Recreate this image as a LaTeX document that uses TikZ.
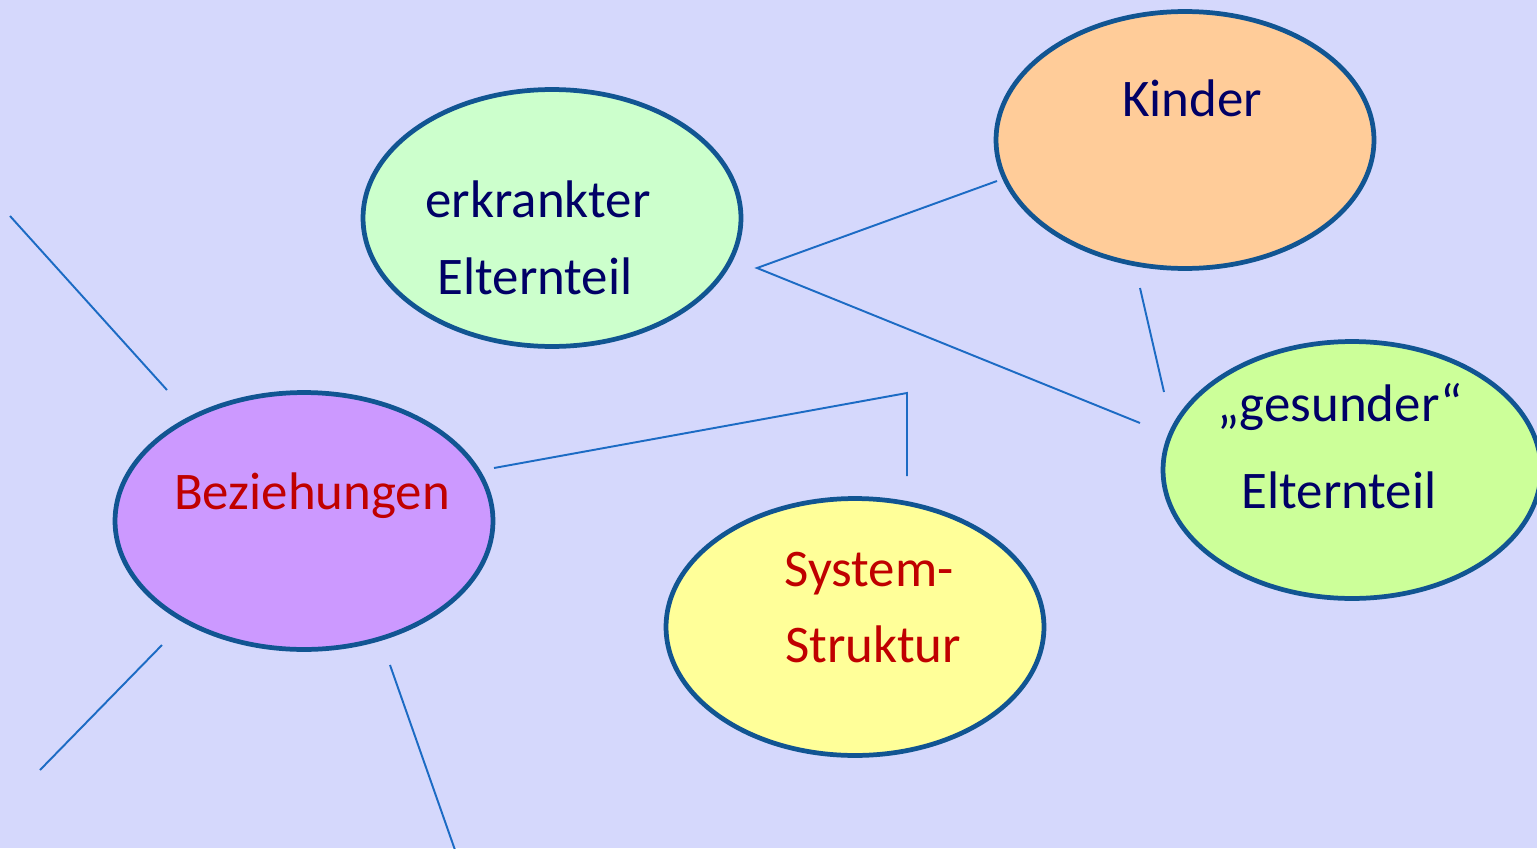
\documentclass[tikz,border=0pt]{standalone}
\usepackage{fontspec}
\setmainfont{Carlito}
\usetikzlibrary{shapes.geometric}
\definecolor{bg}{HTML}{D5D8FC}
\definecolor{rim}{HTML}{115592}
\definecolor{conn}{HTML}{1C6BC4}
\definecolor{navy}{HTML}{000066}
\definecolor{redtxt}{HTML}{C00000}
\definecolor{fgreen}{HTML}{CCFFCC}
\definecolor{forange}{HTML}{FFCC99}
\definecolor{flime}{HTML}{CCFF99}
\definecolor{fviolet}{HTML}{CC99FF}
\definecolor{fyellow}{HTML}{FFFF99}
\tikzset{
  bubble/.style={ellipse, draw=rim, line width=2.7pt, inner sep=0pt, minimum width=7.56cm, minimum height=5.14cm},
  lbl/.style={font=\fontsize{30.1}{36}\selectfont, inner sep=0pt, anchor=base},
  conline/.style={draw=conn, line width=1.1pt}
}
\begin{document}
\begin{tikzpicture}[x=0.02cm,y=-0.02cm]
\fill[bg] (0,0) rectangle (1537,848);
\useasboundingbox (0,0) rectangle (1537,848);
% ellipses
\node[bubble, fill=fgreen] (erk) at (552,218) {};
\node[bubble, fill=forange] (kin) at (1185,140) {};
\node[bubble, fill=flime] (ges) at (1352,470) {};
\node[bubble, fill=fviolet] (bez) at (304,521) {};
\node[bubble, fill=fyellow] (sys) at (855,627) {};
% texts
\node[lbl, text=navy] (t1) at (538,217) {erkrankter};
\node[lbl, text=navy] (t2) at (535,294) {Elternteil};
\node[lbl, text=navy] (t3) at (1192,116) {Kinder};
\node[lbl, text=navy] (t4) at (1340,421) {„gesunder“};
\node[lbl, text=navy] (t5) at (1339,508) {Elternteil};
\node[lbl, text=redtxt] (t6) at (312,509) {Beziehungen};
\node[lbl, text=redtxt] (t7) at (869,586) {System-};
\node[lbl, text=redtxt] (t8) at (873,662) {Struktur};
% connector endpoints
\coordinate (a1) at (10,216);
\coordinate (a2) at (167,390);
\coordinate (b1) at (162,645);
\coordinate (b2) at (40,770);
\coordinate (c1) at (390,665);
\coordinate (c2) at (455,850);
\coordinate (d1) at (494,468);
\coordinate (d2) at (907,393);
\coordinate (d3) at (907,476);
\coordinate (e1) at (997,181);
\coordinate (e2) at (757,268);
\coordinate (e3) at (1140,423);
\coordinate (f1) at (1140,288);
\coordinate (f2) at (1164,392);
\draw[conline] (a1) -- (a2);
\draw[conline] (b1) -- (b2);
\draw[conline] (c1) -- (c2);
\draw[conline] (d1) -- (d2) -- (d3);
\draw[conline] (e1) -- (e2) -- (e3);
\draw[conline] (f1) -- (f2);
\end{tikzpicture}
\end{document}
